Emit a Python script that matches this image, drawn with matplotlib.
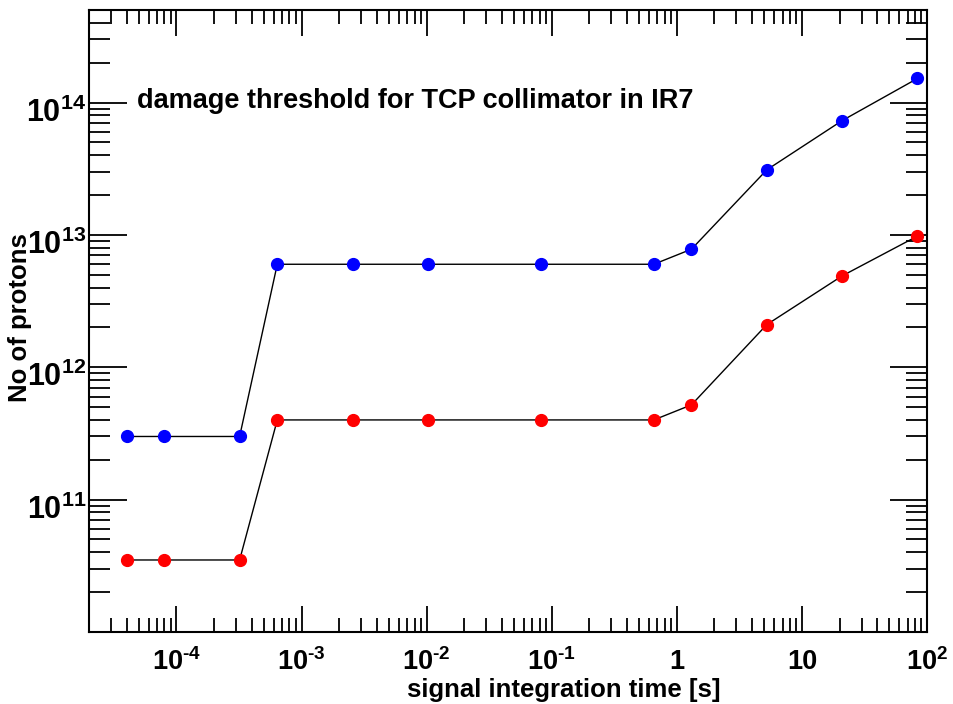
import matplotlib
matplotlib.use('Agg')
import matplotlib.pyplot as plt
import matplotlib.transforms as mtransforms
from matplotlib.ticker import LogLocator, NullFormatter, FixedLocator

plt.rcParams['font.family'] = ['Liberation Sans', 'DejaVu Sans']
plt.rcParams['font.weight'] = 'bold'
plt.rcParams['mathtext.fontset'] = 'custom'
plt.rcParams['mathtext.rm'] = 'Liberation Sans:bold'
plt.rcParams['mathtext.bf'] = 'Liberation Sans:bold'
plt.rcParams['mathtext.default'] = 'bf'

# integration time windows [s]
times = [4e-5, 8e-5, 3.2e-4, 6.4e-4, 2.56e-3, 1.024e-2, 8.2e-2, 0.655, 1.31, 5.24, 20.97, 83.9]
# damage thresholds (number of protons)
blue_protons = [3.0e11, 3.0e11, 3.0e11, 6.0e12, 6.0e12, 6.0e12, 6.0e12, 6.0e12, 7.8e12, 3.1e13, 7.3e13, 1.52e14]
red_protons = [3.5e10, 3.5e10, 3.5e10, 4.0e11, 4.0e11, 4.0e11, 4.0e11, 4.0e11, 5.2e11, 2.1e12, 4.9e12, 9.8e12]

x_ticks = [1e-4, 1e-3, 1e-2, 1e-1, 1, 10, 100]
x_ticklabels = [r'$10^{\text{-}4}$', r'$10^{\text{-}3}$', r'$10^{\text{-}2}$', r'$10^{\text{-}1}$',
                '1', '10', r'$10^{2}$']
y_ticks = [1e11, 1e12, 1e13, 1e14]

title_text = 'damage threshold for TCP collimator in IR7'
x_title = 'signal integration time [s]'
y_title = 'No of protons'

fig = plt.figure(figsize=(9.54, 7.04), dpi=100)
ax = fig.add_axes([89 / 954, 1 - 632 / 704, (927 - 89) / 954, (632 - 10) / 704])

for ys, col in [(blue_protons, '#0000ff'), (red_protons, '#ff0000')]:
    ax.plot(times, ys, color='black', lw=1.0, zorder=2)
    ax.plot(times, ys, ls='none', marker='o', ms=8.5, mfc=col, mec=col, zorder=3)

ax.set_xscale('log')
ax.set_yscale('log')
ax.set_xlim(2e-5, 100)
ax.set_ylim(1e10, 5e14)

ax.yaxis.set_major_locator(FixedLocator(y_ticks))
ax.yaxis.set_minor_locator(LogLocator(base=10, subs=range(2, 10), numticks=20))
ax.xaxis.set_minor_locator(LogLocator(base=10, subs=range(2, 10), numticks=20))
ax.xaxis.set_minor_formatter(NullFormatter())
ax.yaxis.set_minor_formatter(NullFormatter())

ax.set_xticks(x_ticks)
ax.set_xticklabels(x_ticklabels)

for side in ax.spines.values():
    side.set_linewidth(1.5)

ax.tick_params(axis='both', which='both', direction='in', top=True, right=True, width=1.3)
ax.tick_params(axis='x', which='major', length=19, labelsize=19.5, pad=12)
ax.tick_params(axis='x', which='minor', length=10)
ax.tick_params(axis='y', which='major', length=27, labelsize=22, pad=2)
ax.tick_params(axis='y', which='minor', length=15)

# ROOT puts the y labels a bit below the tick
shift = mtransforms.ScaledTranslation(0, -7 / 100, fig.dpi_scale_trans)
for lab in ax.get_yticklabels():
    lab.set_transform(lab.get_transform() + shift)

fig.text(137 / 954, 1 - 108 / 704, title_text, fontsize=19.5, fontweight='bold', ha='left', va='baseline')
fig.text(564 / 954, 1 - 690 / 704, x_title, fontsize=18.5, fontweight='bold', ha='center', va='center')
fig.text(20 / 954, 1 - 318 / 704, y_title, fontsize=18.5, fontweight='bold', ha='center', va='center', rotation=90)

fig.savefig('out.png', dpi=100)
